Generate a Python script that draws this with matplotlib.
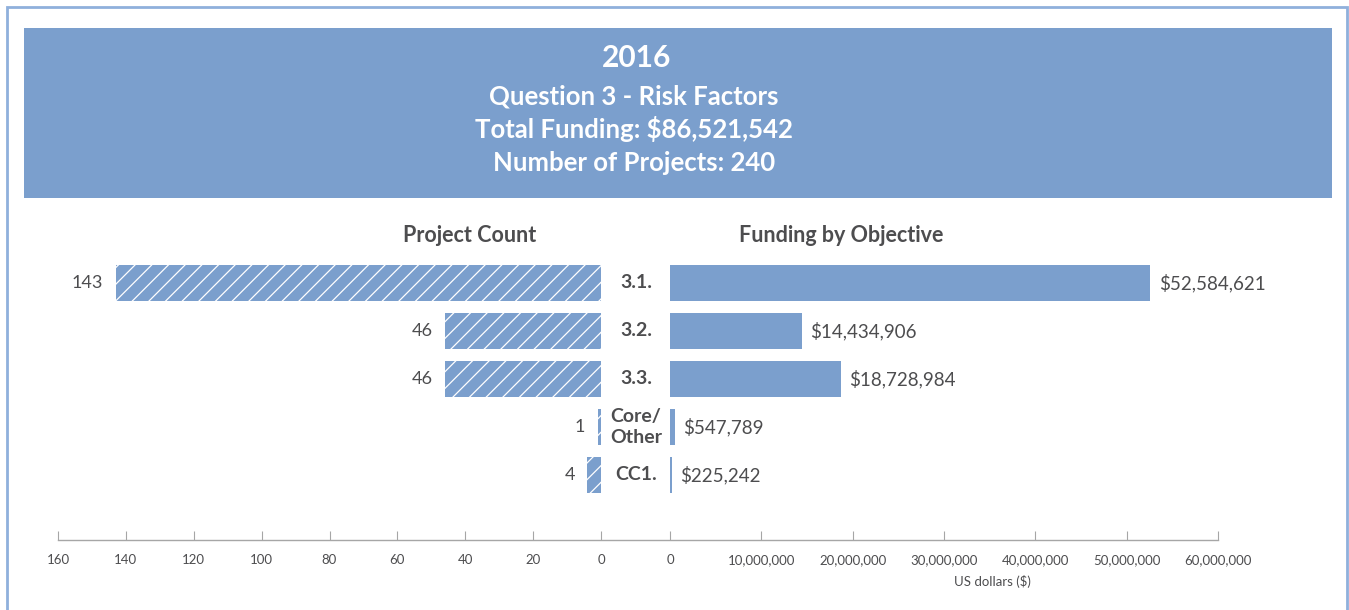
import matplotlib
matplotlib.use('Agg')
import matplotlib.pyplot as plt
import matplotlib.transforms as mtrans
from matplotlib.patches import Rectangle
from matplotlib.lines import Line2D
from matplotlib.ticker import FuncFormatter

plt.rcParams['font.family'] = ['Lato', 'DejaVu Sans']
plt.rcParams['hatch.linewidth'] = 0.9

# data
categories = ['3.1.', '3.2.', '3.3.', 'Core/\nOther', 'CC1.']
counts = [143, 46, 46, 1, 4]
funding = [52584621, 14434906, 18728984, 547789, 225242]
count_ticks = [160, 140, 120, 100, 80, 60, 40, 20, 0]
fund_ticks = [0, 10000000, 20000000, 30000000, 40000000, 50000000, 60000000]
header = ['2016', 'Question 3 - Risk Factors', 'Total Funding: $86,521,542',
          'Number of Projects: 240']

bar_col = '#7b9fcd'
txt_col = '#4d4d4f'
ax_col = '#a6a6a6'

W, H = 1349, 610
fig = plt.figure(figsize=(W / 100, H / 100), dpi=100)


def fx(x):
    return x / W


def fy(y):
    return 1 - y / H


# outer frame and header band
fig.patches.append(Rectangle((fx(7), fy(612)), fx(1347) - fx(7), fy(7) - fy(612),
                             transform=fig.transFigure, fill=False,
                             edgecolor='#8fb0dc', linewidth=2))
fig.patches.append(Rectangle((fx(24), fy(198)), fx(1332) - fx(24), fy(28) - fy(198),
                             transform=fig.transFigure, facecolor=bar_col,
                             edgecolor='none'))
fig.text(fx(637), fy(58), header[0], color='white', fontsize=21.5, fontweight='bold',
         ha='center', va='center')
for i, line in enumerate(header[1:]):
    fig.text(fx(634), fy(96 + i * 33.5), line, color='white', fontsize=18.5,
             fontweight='bold', ha='center', va='center')

y_top, y_bot = 250, 540
axL = fig.add_axes([fx(58), fy(y_bot), fx(601) - fx(58), fy(y_top) - fy(y_bot)])
axR = fig.add_axes([fx(670), fy(y_bot), fx(1218) - fx(670), fy(y_top) - fy(y_bot)])

pos = list(range(len(categories)))
ylim = (4 + 65 / 48, -33 / 48)

axL.barh(pos, counts, height=0.75, color=bar_col, edgecolor='white',
         linewidth=0, hatch='//')
axL.set_xlim(160, 0)
axR.barh(pos, funding, height=0.75, color=bar_col, linewidth=0)
axR.set_xlim(0, 60000000)

for ax, ticks in ((axL, count_ticks), (axR, fund_ticks)):
    ax.set_ylim(*ylim)
    ax.set_yticks([])
    ax.set_xticks(ticks)
    for s in ax.spines.values():
        s.set_visible(False)
    ax.tick_params(axis='x', direction='in', length=6.5, width=0.8, color=ax_col,
                   labelsize=9.5, labelcolor=txt_col, pad=10)
    ax.patch.set_alpha(0)

axR.xaxis.set_major_formatter(FuncFormatter(lambda v, p: f'{int(v):,}'))

fig.add_artist(Line2D([fx(58), fx(1218)], [fy(y_bot), fy(y_bot)],
                      transform=fig.transFigure, color=ax_col, linewidth=1))

for p, c in zip(pos, counts):
    axL.annotate(str(c), (c, p), xytext=(-9, 0), textcoords='offset points',
                 ha='right', va='center', fontsize=13, color=txt_col)
for p, f in zip(pos, funding):
    axR.annotate(f'${f:,}', (f, p), xytext=(6, 0), textcoords='offset points',
                 ha='left', va='center', fontsize=13.5, color=txt_col)

tr = mtrans.blended_transform_factory(fig.transFigure, axR.transData)
for p, cat in zip(pos, categories):
    fig.text(fx(636), p, cat, transform=tr, ha='center', va='center',
             fontsize=14, fontweight='bold', color=txt_col, linespacing=1.25)

fig.text(fx(470), fy(235), 'Project Count', ha='center', va='center',
         fontsize=15.5, fontweight='bold', color=txt_col)
fig.text(fx(841), fy(235), 'Funding by Objective', ha='center', va='center',
         fontsize=15.5, fontweight='bold', color=txt_col)
fig.text(fx(992), fy(581), 'US dollars ($)', ha='center', va='center',
         fontsize=9.5, color=txt_col)

fig.savefig('out.png', dpi=100)
